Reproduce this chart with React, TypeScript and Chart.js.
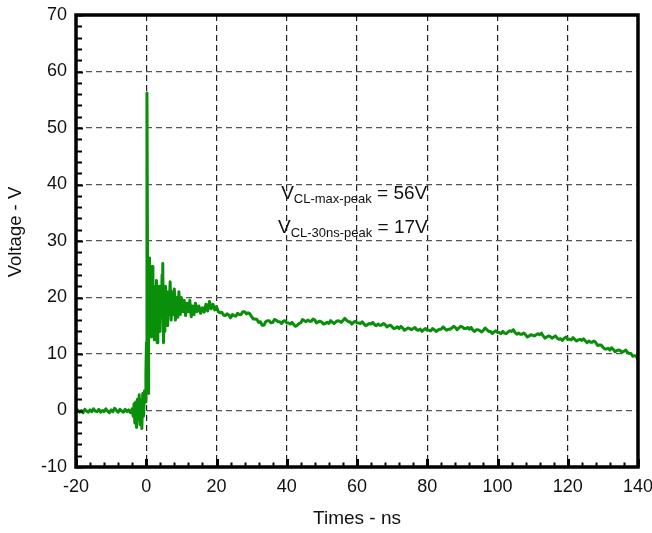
import React, { useEffect, useRef } from "react";
import { Chart, registerables } from "chart.js";

Chart.register(...registerables);

// ---- Data ----
// pre-trigger baseline, -20 .. -4 ns
const preTimes = [-20, -19.5, -19, -18.5, -18, -17.5, -17, -16.5, -16, -15.5, -15, -14.5, -14, -13.5, -13, -12.5, -12, -11.5, -11, -10.5, -10, -9.5, -9, -8.5, -8, -7.5, -7, -6.5, -6, -5.5, -5, -4.5, -4];
const preVolts = [-0.2, 0.1, -0.3, 0.0, -0.4, 0.2, -0.1, -0.3, 0.1, -0.2, 0.3, -0.1, -0.2, 0.2, -0.3, 0.0, -0.2, 0.3, -0.1, -0.4, 0.1, -0.2, 0.4, 0.0, -0.3, 0.2, -0.1, -0.3, 0.2, -0.2, 0.1, -0.4, 0.3];

// trigger noise and main spike
const spikeTimes = [-3.75, -3.5, -3.25, -3, -2.75, -2.5, -2.25, -2, -1.75, -1.5, -1.25, -1, -0.75, -0.5, -0.25, -0.1, 0.05, 0.2, 0.35, 0.5, 0.6, 0.75, 0.95];
const spikeVolts = [-1.0, 1.2, -2.2, 1.5, -3.0, 2.0, -1.5, 2.8, -2.5, 1.8, -3.2, 3.0, -1.0, 3.5, 1.5, 6.5, 12, 56.2, 30, 8, 3, 14, 27];

// ringing after the spike
const ringTimes = [1.1, 1.3, 1.5, 1.7, 1.9, 2.1, 2.3, 2.5, 2.7, 2.9, 3.1, 3.3, 3.5, 3.7, 3.9, 4.1, 4.3, 4.5, 4.7, 4.9, 5.1, 5.3, 5.5, 5.7, 5.9, 6.1, 6.3, 6.5, 6.8, 7.1, 7.4, 7.7, 8.0, 8.3, 8.7, 9.0, 9.3, 9.7, 10.0, 10.4, 10.8, 11.2, 11.6, 12.0, 12.4, 12.8, 13.2, 13.6, 14.0, 14.5, 15.0, 15.5, 16.0, 16.5, 17.0, 17.5, 18.0, 18.5, 19.0, 19.5, 20.0, 20.5];
const ringVolts = [14, 24, 13, 25.5, 15, 22, 12.5, 21, 16, 23, 12, 20, 15, 22, 14, 21, 17, 24, 26, 12, 20, 14, 22, 16, 21, 15, 20, 17, 22.8, 16, 21, 17, 21.5, 16, 20, 16.5, 21, 17, 20, 17.5, 19.5, 16.8, 19, 17.5, 19.5, 16.6, 18.5, 17, 19, 17.5, 18.5, 17.2, 18.2, 17.4, 18.8, 17.6, 19.3, 18.0, 18.8, 17.8, 18.4, 17.5];

// slow decay: samples on whole ns from 21 ns to 140 ns ...
const tailStartNs = 21;
const tailVolts = [
  17.3, 16.9, 17.1, 16.4, 16.8, 17.2, 17.0, 17.5, 17.3, 16.6,
  16.2, 15.6, 15.1, 15.7, 15.9, 15.6, 16.0, 15.7, 15.8, 15.5,
  15.3, 15.2, 15.1, 15.5, 15.9, 16.0, 15.8, 16.0, 15.7, 15.6,
  15.4, 15.4, 15.6, 15.7, 15.8, 15.9, 16.0, 15.7, 15.6, 15.5,
  15.4, 15.3, 15.2, 15.3, 15.2, 15.3, 15.1, 15.2, 15.0, 14.8,
  14.6, 14.5, 14.6, 14.4, 14.5, 14.5, 14.3, 14.4, 14.3, 14.2,
  14.1, 14.3, 14.2, 14.4, 14.5, 14.4, 14.6, 14.7, 14.6, 14.8,
  14.5, 14.4, 14.2, 14.3, 14.1, 14.2, 14.3, 14.0, 13.9, 13.8,
  13.6, 13.7, 13.9, 14.0, 13.8, 13.7, 13.5, 13.4, 13.2, 13.3,
  13.4, 13.4, 13.2, 13.0, 13.1, 13.0, 12.8, 12.7, 12.8, 12.6,
  12.5, 12.6, 12.5, 12.4, 12.3, 12.3, 12.1, 12.0, 11.6, 11.2,
  10.9, 10.7, 10.8, 10.6, 10.6, 10.5, 10.3, 10.1, 9.7, 9.0,
];
// ... and the noisy samples between them (21.5 ns .. 139.5 ns)
const tailMidVolts = [
  17.4, 16.8, 16.9, 17.0, 16.7, 17.0, 17.5, 17.1, 17.1, 16.2,
  16.1, 15.7, 15.1, 15.9, 15.5, 16.1, 15.7, 15.4, 15.9, 15.5,
  15.6, 14.9, 15.4, 16.1, 15.7, 15.8, 16.2, 15.5, 15.8, 15.3,
  15.6, 15.9, 15.4, 15.9, 15.6, 16.3, 15.7, 15.3, 15.8, 15.5,
  15.7, 15.0, 15.4, 15.6, 15.0, 15.1, 15.4, 14.8, 15.1, 14.5,
  14.8, 14.9, 14.2, 14.6, 14.3, 14.7, 14.2, 14.0, 14.5, 14.2,
  14.5, 14.0, 14.4, 14.8, 14.2, 14.4, 14.9, 14.3, 14.9, 14.5,
  14.7, 14.7, 14.0, 14.3, 13.9, 14.6, 14.0, 13.6, 14.1, 13.8,
  14.0, 13.6, 14.1, 14.3, 13.5, 13.5, 13.7, 13.0, 13.4, 13.2,
  13.6, 13.7, 12.8, 13.2, 12.8, 13.2, 12.6, 12.4, 13.0, 12.6,
  12.9, 12.3, 12.6, 12.7, 12.0, 12.1, 12.3, 11.5, 11.6, 10.9,
  11.0, 11.1, 10.4, 10.7, 10.3, 10.7, 10.1, 9.6, 9.6,
];

const xMin = -20, xMax = 140, xStep = 20, xMinorStep = 4;
const yMin = -10, yMax = 70, yStep = 10, yMinorStep = 2;

const xTitle = "Times - ns";
const yTitle = "Voltage - V";

const annotations = [
  { x: 38.4, y: 37.4, main: "V", sub: "CL-max-peak", rest: " = 56V" },
  { x: 37.5, y: 31.4, main: "V", sub: "CL-30ns-peak", rest: " = 17V" },
];

const FONT = '"Liberation Sans", Arial, Helvetica, sans-serif';
const LINE_COLOR = "#0a8f0a";

const framePlugin = {
  id: "frameAndTicks",
  afterDraw(chart: any) {
    const { ctx, chartArea } = chart;
    const { left, right, top, bottom } = chartArea;
    const xs = chart.scales.x;
    const ys = chart.scales.y;
    ctx.save();
    ctx.strokeStyle = "#000";
    ctx.lineWidth = 2;
    for (let v = yMin; v <= yMax; v += yMinorStep) {
      const py = Math.round(ys.getPixelForValue(v)) + 0.5;
      const len = v % yStep === 0 ? 7 : 6;
      ctx.beginPath();
      ctx.moveTo(left, py);
      ctx.lineTo(left + len, py);
      ctx.stroke();
    }
    for (let t = xMin; t <= xMax; t += xMinorStep) {
      const px = Math.round(xs.getPixelForValue(t)) + 0.5;
      const major = (t - xMin) % xStep === 0;
      ctx.lineWidth = major ? 3 : 2;
      ctx.beginPath();
      ctx.moveTo(px, bottom);
      ctx.lineTo(px, bottom - (major ? 8 : 4.5));
      ctx.stroke();
    }
    ctx.lineWidth = 3.5;
    ctx.strokeRect(left, top, right - left, bottom - top);

    // y-axis title (sits a little above the axis centre in the reference)
    ctx.save();
    ctx.fillStyle = "#111";
    ctx.font = `18.5px ${FONT}`;
    ctx.textAlign = "center";
    ctx.textBaseline = "middle";
    ctx.translate(16, (top + bottom) / 2 - 9);
    ctx.rotate(-Math.PI / 2);
    ctx.fillText(yTitle, 0, 0);
    ctx.restore();

    ctx.fillStyle = "#111";
    ctx.textBaseline = "alphabetic";
    ctx.textAlign = "left";
    for (const a of annotations) {
      let px = xs.getPixelForValue(a.x);
      const py = ys.getPixelForValue(a.y);
      ctx.font = `19px ${FONT}`;
      ctx.fillText(a.main, px, py);
      px += ctx.measureText(a.main).width;
      ctx.font = `13px ${FONT}`;
      ctx.fillText(a.sub, px, py + 3.5);
      px += ctx.measureText(a.sub).width;
      ctx.font = `19px ${FONT}`;
      ctx.fillText(a.rest, px, py);
    }
    ctx.restore();
  },
};

export default function App() {
  const canvasRef = useRef<HTMLCanvasElement | null>(null);

  useEffect(() => {
    const canvas = canvasRef.current;
    if (!canvas) return;

    const points: { x: number; y: number }[] = [];
    preTimes.forEach((t, i) => points.push({ x: t, y: preVolts[i] }));
    spikeTimes.forEach((t, i) => points.push({ x: t, y: spikeVolts[i] }));
    ringTimes.forEach((t, i) => points.push({ x: t, y: ringVolts[i] }));
    tailVolts.forEach((v, i) => {
      points.push({ x: tailStartNs + i, y: v });
      if (i < tailMidVolts.length) points.push({ x: tailStartNs + i + 0.5, y: tailMidVolts[i] });
    });

    const chart = new Chart(canvas, {
      type: "line",
      data: {
        datasets: [
          {
            data: points,
            borderColor: LINE_COLOR,
            backgroundColor: LINE_COLOR,
            borderWidth: 3,
            pointRadius: 0,
            tension: 0,
            borderJoinStyle: "round",
          } as any,
        ],
      },
      options: {
        animation: false,
        responsive: true,
        maintainAspectRatio: false,
        devicePixelRatio: 1,
        layout: { padding: { top: 15, right: 14, left: 0, bottom: 0 } },
        plugins: {
          legend: { display: false },
          tooltip: { enabled: false },
        },
        scales: {
          x: {
            type: "linear",
            min: xMin,
            max: xMax,
            ticks: {
              stepSize: xStep,
              color: "#111",
              padding: 9,
              font: { family: FONT, size: 18 },
              maxRotation: 0,
              autoSkip: false,
            },
            grid: { color: "#222", lineWidth: 1.2, drawTicks: false },
            border: { display: false, dash: [6, 4] },
            title: {
              display: true,
              text: xTitle,
              color: "#111",
              font: { family: FONT, size: 19 },
              padding: { top: 0, bottom: 3 },
            },
            afterFit(scale: any) {
              scale.height = 66;
              scale.paddingLeft = 0;
              scale.paddingRight = 0;
              scale.paddingTop = 0;
              scale.paddingBottom = 0;
            },
          },
          y: {
            type: "linear",
            min: yMin,
            max: yMax,
            ticks: {
              stepSize: yStep,
              color: "#111",
              padding: 9,
              font: { family: FONT, size: 18 },
              autoSkip: false,
            },
            grid: { color: "#555", lineWidth: 1.2, drawTicks: false },
            border: { display: false, dash: [6, 4] },
            title: { display: false },
            afterFit(scale: any) {
              scale.width = 76;
              scale.paddingLeft = 0;
              scale.paddingRight = 0;
              scale.paddingTop = 0;
              scale.paddingBottom = 0;
            },
          },
        },
      },
      plugins: [framePlugin],
    });

    return () => chart.destroy();
  }, []);

  return (
    <div style={{ position: "fixed", left: 0, top: 0, width: 652, height: 533, background: "#fff" }}>
      <canvas ref={canvasRef} />
    </div>
  );
}
